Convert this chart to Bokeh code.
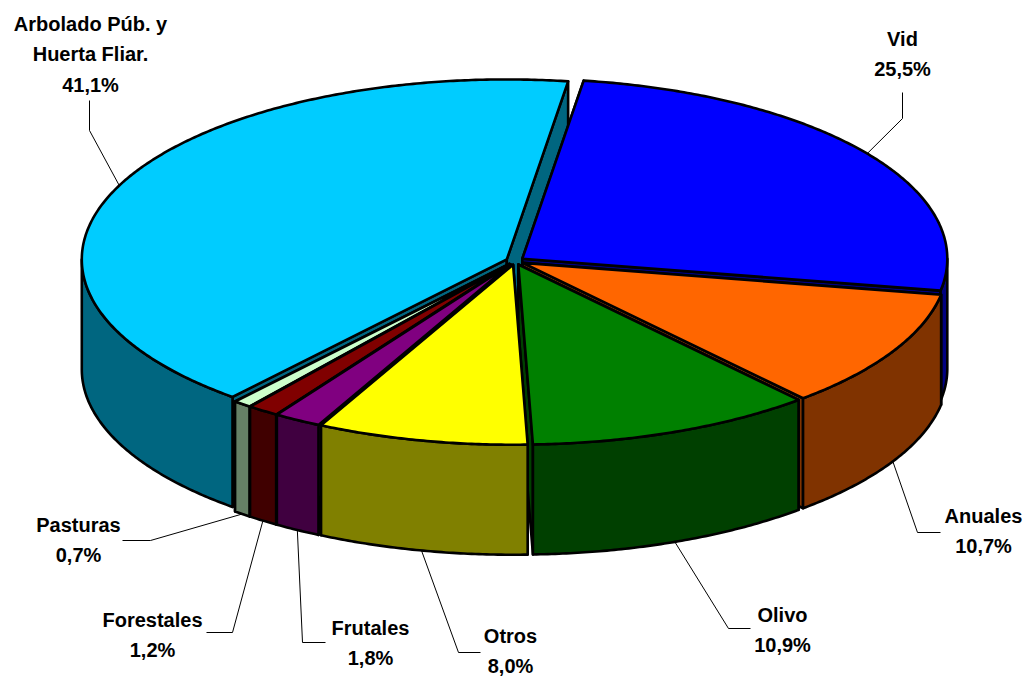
import math
from bokeh.plotting import figure
from bokeh.models import Range1d
from bokeh.embed import file_html
from bokeh.resources import INLINE
from bokeh.core.properties import value

categories = ["Vid", "Anuales", "Olivo", "Otros", "Frutales", "Forestales", "Pasturas", "Arbolado Púb. y\nHuerta Fliar."]
values = [25.5, 10.7, 10.9, 8.0, 1.8, 1.2, 0.7, 41.1]
value_labels = ["25,5%", "10,7%", "10,9%", "8,0%", "1,8%", "1,2%", "0,7%", "41,1%"]
top_colors = ["#0000FF", "#FF6600", "#008000", "#FFFF00", "#800080", "#800000", "#CCFFCC", "#00CCFF"]
side_colors = ["#000080", "#803300", "#004000", "#808000", "#400040", "#400000", "#668066", "#006680"]

# layout (image pixels)
CX, CY, RX, RY, DEPTH, EXPLODE = 514.5, 260.5, 425.0, 180.0, 110.0, 9.0
START = 8.3
W, H = 1024, 676
draw_order = [7, 0, 1, 6, 5, 4, 2, 3]
label_pos = {0: (902, 38), 1: (983, 515), 2: (782, 614), 3: (510, 635), 4: (370, 627),
             5: (152, 619), 6: (78, 524), 7: (90, 23)}
leader_path = {0: [(902, 118), (902, 92)], 1: [(917, 532), (940, 532)], 2: [(728, 628), (750, 628)],
               3: [(458, 652), (480, 652)], 4: [(302, 642), (325, 642)], 5: [(232, 632), (206, 632)],
               6: [(150, 540), (122, 540)], 7: [(89, 130), (89, 100)]}
on_wall = {1, 2, 3, 4, 5, 6}

total = sum(values)
angles = [START]
for v in values:
    angles.append(angles[-1] + v / total * 360)

def rim(ox, oy, t):
    r = math.radians(t)
    return ox + RX * math.sin(r), oy - RY * math.cos(r)

p = figure(width=W, height=H, output_backend="svg", toolbar_location=None,
           x_range=Range1d(0, W), y_range=Range1d(H, 0), min_border=0)
p.axis.visible = False
p.grid.visible = False
p.outline_line_color = None
p.background_fill_color = "white"

LW = 2.6
def poly(xs, ys, color):
    p.patch(xs, ys, fill_color=color, line_color="black", line_width=LW, line_join="round")

anchors = {}
for i in draw_order:
    a0, a1 = angles[i], angles[i + 1]
    mid = math.radians((a0 + a1) / 2)
    ox = CX + EXPLODE * math.sin(mid)
    oy = CY - EXPLODE * RY / RX * math.cos(mid)
    n = max(2, int((a1 - a0) * 2))
    ts = [a0 + (a1 - a0) * k / n for k in range(n + 1)]
    arc = [rim(ox, oy, t) for t in ts]
    # radial faces
    for (rx_, ry_) in (arc[0], arc[-1]):
        poly([ox, rx_, rx_, ox], [oy, ry_, ry_ + DEPTH, oy + DEPTH], side_colors[i])
    # outer wall: only the part of the arc on the front half of the ellipse
    f0, f1 = max(a0, 90.0), min(a1, 270.0)
    if f1 > f0:
        m = max(2, int((f1 - f0) * 2))
        front = [rim(ox, oy, f0 + (f1 - f0) * k / m) for k in range(m + 1)]
        poly([q[0] for q in front] + [q[0] for q in reversed(front)],
             [q[1] for q in front] + [q[1] + DEPTH for q in reversed(front)], side_colors[i])
    # top
    poly([ox] + [q[0] for q in arc], [oy] + [q[1] for q in arc], top_colors[i])
    ax, ay = rim(ox, oy, (a0 + a1) / 2)
    anchors[i] = (ax, ay + (DEPTH if i in on_wall else 0))

for i, path in leader_path.items():
    pts = [anchors[i]] + path
    p.line([q[0] for q in pts], [q[1] for q in pts], line_color="black", line_width=1)

for i, (lx, ly) in label_pos.items():
    lines = categories[i].split("\n") + [value_labels[i]]
    for k, t in enumerate(lines):
        p.text([lx], [ly + k * 30.5], text=[t], text_font=value("Liberation Sans"),
               text_font_style="bold", text_font_size="20px", text_color="black",
               text_align="center", text_baseline="middle")

open("out.html", "w").write(file_html(p, INLINE))
